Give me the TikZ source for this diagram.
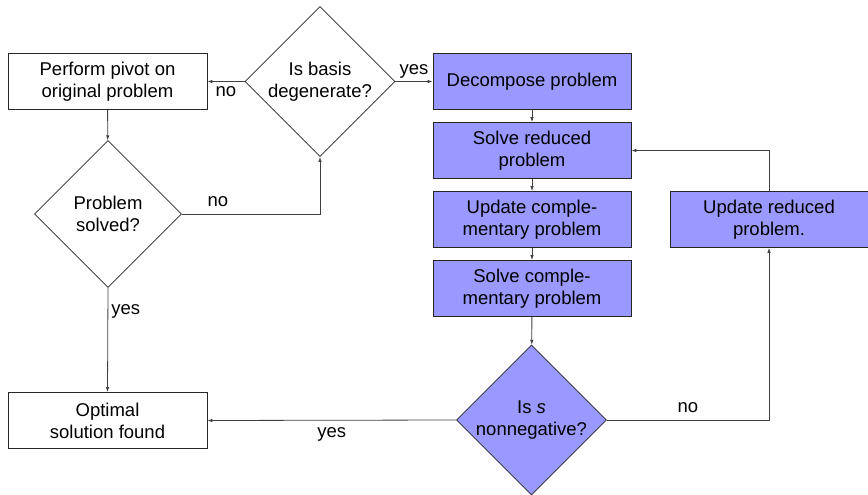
\documentclass[tikz,border=0pt]{standalone}
\usepackage{fontspec}
\setmainfont{Liberation Sans}
\usetikzlibrary{shapes.geometric,arrows.meta}
\definecolor{fillblue}{HTML}{9999FF}
\begin{document}
\begin{tikzpicture}[x=1pt,y=-1pt,
  every node/.style={font=\fontsize{18.5}{21.8}\selectfont},
  box/.style={draw=black!85, rectangle, minimum width=199pt, minimum height=56pt, align=center, inner sep=0pt, line width=0.8pt},
  bluebox/.style={box, fill=fillblue},
  decision/.style={draw=black!85, diamond, aspect=1, minimum width=150pt, minimum height=150pt, inner sep=0pt, align=center, line width=0.8pt},
  conn/.style={draw=black!75, line width=0.8pt, -{Latex[length=5pt,width=3.5pt]}},
  lbl/.style={inner sep=3pt, text height=12pt, text depth=4pt}
]
\useasboundingbox (0,0) rectangle (868,495);

\node[box] (pivot) at (107.5,81.5) {Perform pivot on\\original problem};
\node[decision] (basis) at (320,81.5) {Is basis\\degenerate?};
\node[bluebox, minimum width=198pt] (decomp) at (532,81.5) {Decompose problem};
\node[bluebox, minimum width=198pt] (sred) at (532,150.5) {Solve reduced\\problem};
\node[bluebox, minimum width=198pt] (ucomp) at (532,219.5) {Update comple-\\mentary problem};
\node[bluebox, minimum width=198pt] (scomp) at (532,288.5) {Solve comple-\\mentary problem};
\node[decision, fill=fillblue] (isS) at (531.5,420) {Is \textit{s}\\nonnegative?};
\node[bluebox, minimum width=198pt] (ured) at (769,219.5) {Update reduced\\problem.};
\node[decision, minimum width=147pt, minimum height=147pt] (solved) at (108,214) {Problem\\solved?};
\node[box] (opt) at (107.5,420.5) {Optimal\\solution found};

\draw[conn] (basis.west) -- node[lbl, below] {no} (pivot.east);
\draw[conn] (basis.east) -- node[lbl, above] {yes} (decomp.west);
\draw[conn] (decomp) -- (sred);
\draw[conn] (sred) -- (ucomp);
\draw[conn] (ucomp) -- (scomp);
\draw[conn] (scomp) -- (isS);
\draw[conn] (pivot) -- (solved);
\draw[conn] (solved.east) -| node[lbl, above, pos=0.13] {no} (basis.south);
\draw[conn] (solved.south) -- node[lbl, right, pos=0.22] {yes} (opt.north);
\draw[conn] (isS.west) -- node[lbl, below, yshift=-2pt] {yes} (opt.east);
\draw[conn] (isS.east) -| node[lbl, above, pos=0.25] {no} (ured.south);
\draw[conn] (ured.north) |- (sred.east);
\end{tikzpicture}
\end{document}
